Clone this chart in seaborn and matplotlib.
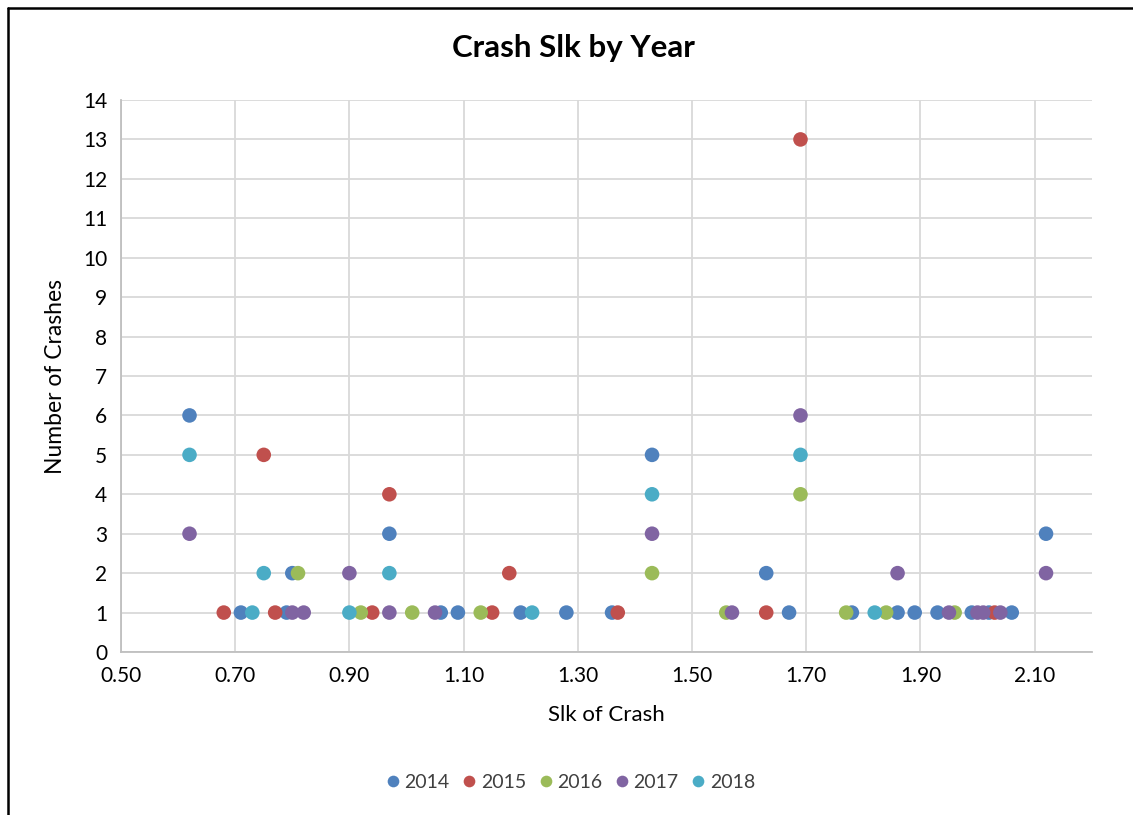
import matplotlib
matplotlib.use("Agg")
import matplotlib.pyplot as plt
import pandas as pd
import seaborn as sns
from matplotlib.lines import Line2D

# values
YEARS = ["2014", "2015", "2016", "2017", "2018"]

slk_2014 = [0.62, 0.71, 0.79, 0.80, 0.97, 1.06, 1.09, 1.20, 1.28, 1.36, 1.43,
            1.63, 1.67, 1.78, 1.86, 1.89, 1.93, 1.99, 2.02, 2.06, 2.12]
crashes_2014 = [6, 1, 1, 2, 3, 1, 1, 1, 1, 1, 5, 2, 1, 1, 1, 1, 1, 1, 1, 1, 3]

slk_2015 = [0.68, 0.75, 0.77, 0.94, 0.97, 1.15, 1.18, 1.37, 1.63, 1.69, 2.03]
crashes_2015 = [1, 5, 1, 1, 4, 1, 2, 1, 1, 13, 1]

slk_2016 = [0.81, 0.92, 1.01, 1.13, 1.43, 1.56, 1.69, 1.77, 1.84, 1.96]
crashes_2016 = [2, 1, 1, 1, 2, 1, 4, 1, 1, 1]

slk_2017 = [0.62, 0.80, 0.82, 0.90, 0.97, 1.05, 1.43, 1.57, 1.69, 1.86,
            1.95, 2.00, 2.01, 2.04, 2.12]
crashes_2017 = [3, 1, 1, 2, 1, 1, 3, 1, 6, 2, 1, 1, 1, 1, 2]

slk_2018 = [0.62, 0.73, 0.75, 0.90, 0.97, 1.22, 1.43, 1.69, 1.82]
crashes_2018 = [5, 1, 2, 1, 2, 1, 4, 5, 1]

X_TICKS = [0.50, 0.70, 0.90, 1.10, 1.30, 1.50, 1.70, 1.90, 2.10]
Y_TICKS = list(range(0, 15))

COLORS = {"2014": "#4F81BD", "2015": "#C0504D", "2016": "#9BBB59",
          "2017": "#8064A2", "2018": "#4BACC6"}


def build_frame():
    parts = []
    for year, xs, ys in zip(YEARS,
                            [slk_2014, slk_2015, slk_2016, slk_2017, slk_2018],
                            [crashes_2014, crashes_2015, crashes_2016, crashes_2017, crashes_2018]):
        parts.append(pd.DataFrame({"slk": xs, "crashes": ys, "year": year}))
    return pd.concat(parts, ignore_index=True)


df = build_frame()

sns.set_theme(style="whitegrid")
plt.rcParams["font.family"] = ["Lato", "DejaVu Sans"]

fig = plt.figure(figsize=(11.33, 8.15), dpi=100)
ax = fig.add_axes([121 / 1133, 1 - 652 / 815, (1091.7 - 121) / 1133, (652 - 100) / 815])

sns.scatterplot(data=df, x="slk", y="crashes", hue="year", hue_order=YEARS,
                palette=COLORS, s=110, linewidth=0, ax=ax, clip_on=False)

ax.set_xlim(0.5, 2.2)
ax.set_ylim(0, 14)
ax.set_xticks(X_TICKS)
ax.set_xticklabels([f"{v:.2f}" for v in X_TICKS])
ax.set_yticks(Y_TICKS)
ax.tick_params(length=0, labelsize=15, colors="black", pad=10)
ax.grid(True, color="#d9d9d9", linewidth=1.3)

for side in ["top", "right"]:
    ax.spines[side].set_visible(False)
for side in ["left", "bottom"]:
    ax.spines[side].set_visible(True)
    ax.spines[side].set_color("#bfbfbf")
    ax.spines[side].set_linewidth(1.3)

ax.set_xlabel("Slk of Crash", fontsize=16, color="black", labelpad=14)
ax.set_ylabel("Number of Crashes", fontsize=16.5, color="black", labelpad=12)

fig.text(573 / 1133, 1 - 48 / 815, "Crash Slk by Year", ha="center", va="center",
         fontsize=22.5, fontweight="bold", color="black")

sns.move_legend(ax, "center", bbox_to_anchor=(571 / 1133, 1 - 782 / 815),
                bbox_transform=fig.transFigure, ncol=5, title=None, frameon=False,
                fontsize=14, handlelength=0.6, handletextpad=0.3, columnspacing=0.7,
                markerscale=0.8, labelcolor="#404040")

# outer chart border (only left and top visible in the reference)
fig.add_artist(Line2D([7.5 / 1133, 7.5 / 1133], [0, 1 - 7.5 / 815],
                      transform=fig.transFigure, color="black", linewidth=1.8))
fig.add_artist(Line2D([7.5 / 1133, 1], [1 - 7.5 / 815, 1 - 7.5 / 815],
                      transform=fig.transFigure, color="black", linewidth=1.8))

fig.savefig("out.png", dpi=100)
plt.close(fig)
